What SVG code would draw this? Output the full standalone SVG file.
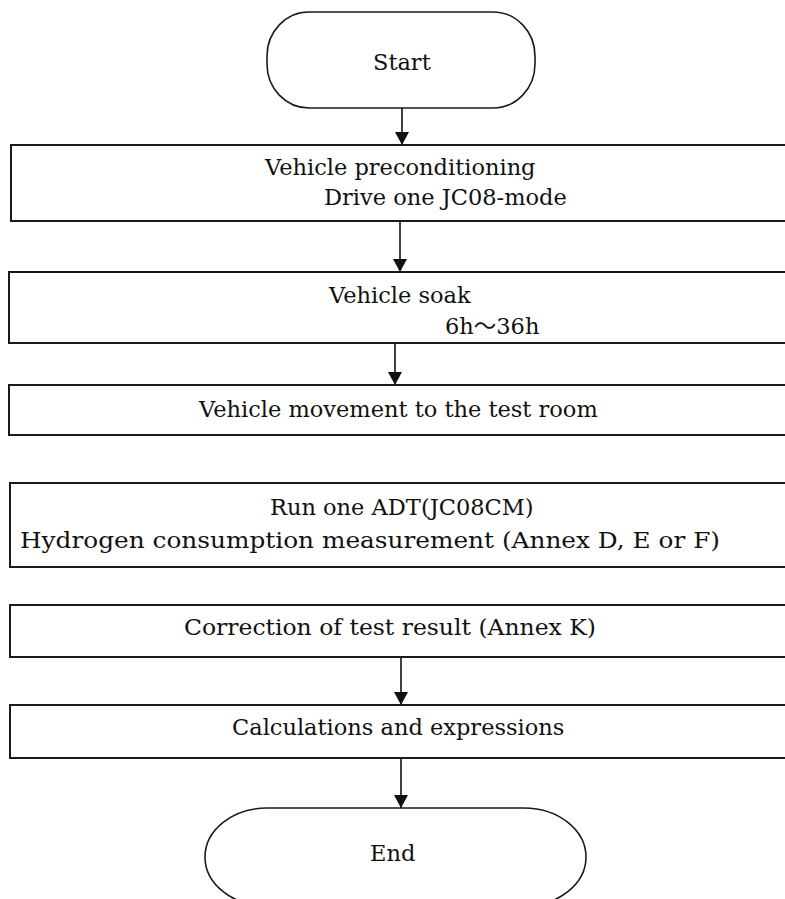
<svg xmlns="http://www.w3.org/2000/svg" width="785" height="899" viewBox="0 0 785 899">
<style>
.box{fill:#fff;stroke:#1a1a1a;stroke-width:2}
.term{fill:#fff;stroke:#1a1a1a;stroke-width:1.6}
.t{font-family:"DejaVu Serif","Liberation Serif","Noto Sans CJK JP",serif;font-size:22.5px;fill:#111}
.c{stroke:#111;stroke-width:1.6;fill:none;marker-end:url(#ah)}
</style>
<defs>
<marker id="ah" markerUnits="userSpaceOnUse" markerWidth="14" markerHeight="14" refX="13" refY="7" orient="auto" viewBox="0 0 14 14">
<path d="M0,0 L13,7 L0,14 Z" fill="#111"/>
</marker>
</defs>
<rect width="785" height="899" fill="#fff"/>
<g id="start">
<rect class="term" x="267" y="12" width="268" height="96" rx="42" ry="44"/>
<text class="t" x="373" y="70">Start</text>
</g>
<g id="n1">
<rect class="box" x="11" y="145" width="800" height="76"/>
<text class="t" x="265" y="175">Vehicle preconditioning</text>
<text class="t" x="324" y="205">Drive one JC08-mode</text>
</g>
<g id="n2">
<rect class="box" x="9" y="272" width="800" height="71"/>
<text class="t" x="329" y="303">Vehicle soak</text>
<text class="t" x="445" y="334">6h〜36h</text>
</g>
<g id="n3">
<rect class="box" x="9" y="385" width="800" height="50"/>
<text class="t" x="199" y="417">Vehicle movement to the test room</text>
</g>
<g id="n4">
<rect class="box" x="10" y="483" width="800" height="84"/>
<text class="t" x="270" y="515">Run one ADT(JC08CM)</text>
<text class="t" x="20" y="548" textLength="700" lengthAdjust="spacingAndGlyphs">Hydrogen consumption measurement (Annex D, E or F)</text>
</g>
<g id="n5">
<rect class="box" x="10" y="605" width="800" height="52"/>
<text class="t" x="184" y="635" textLength="412" lengthAdjust="spacingAndGlyphs">Correction of test result (Annex K)</text>
</g>
<g id="n6">
<rect class="box" x="10" y="705" width="800" height="53"/>
<text class="t" x="232" y="735">Calculations and expressions</text>
</g>
<g id="end">
<rect class="term" x="205" y="808" width="381" height="98" rx="62" ry="49"/>
<text class="t" x="370" y="861">End</text>
</g>
<g id="connectors">
<line class="c" x1="402" y1="108" x2="402" y2="145"/>
<line class="c" x1="400" y1="222" x2="400" y2="272"/>
<line class="c" x1="395" y1="344" x2="395" y2="385"/>
<line class="c" x1="401" y1="658" x2="401" y2="705"/>
<line class="c" x1="401" y1="759" x2="401" y2="808"/>
</g>
</svg>
